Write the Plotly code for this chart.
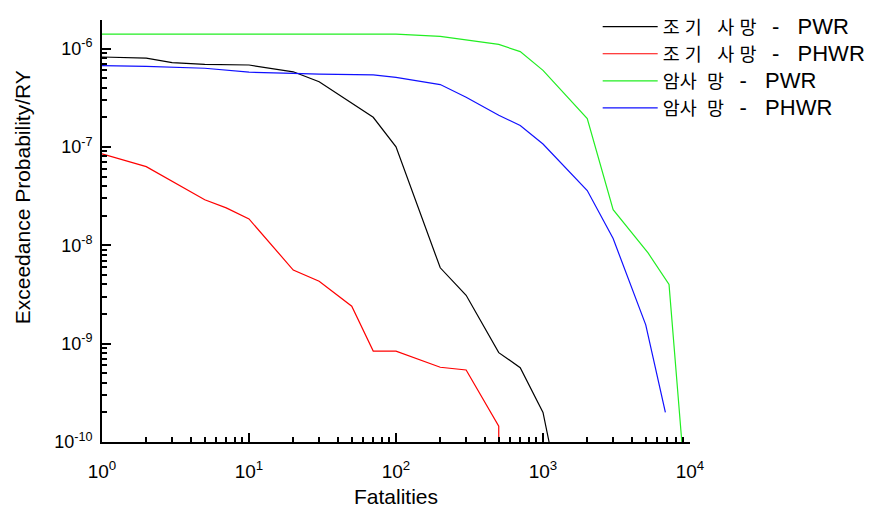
import plotly.graph_objects as go

# Early fatalities - PWR (black)
early_pwr_x = [1, 2, 3, 5, 10, 20, 30, 70, 100, 200, 300, 500, 700, 1000, 1100]
early_pwr_y = [8.2e-7, 8.0e-7, 7.2e-7, 6.9e-7, 6.8e-7, 5.8e-7, 4.6e-7, 2.0e-7, 1.0e-7,
               5.9e-9, 3.1e-9, 8.1e-10, 5.7e-10, 2.0e-10, 1.0e-10]

# Early fatalities - PHWR (red)
early_phwr_x = [1, 2, 5, 7, 10, 20, 30, 50, 70, 100, 200, 300, 500, 500]
early_phwr_y = [8.5e-8, 6.3e-8, 2.9e-8, 2.4e-8, 1.85e-8, 5.6e-9, 4.3e-9, 2.4e-9,
                8.4e-10, 8.4e-10, 5.75e-10, 5.4e-10, 1.45e-10, 1.0e-10]

# Cancer fatalities - PWR (green)
cancer_pwr_x = [1, 10, 100, 200, 500, 700, 1000, 2000, 3000, 5200, 7200, 8800]
cancer_pwr_y = [1.4e-6, 1.4e-6, 1.4e-6, 1.33e-6, 1.1e-6, 9.3e-7, 6.0e-7, 1.94e-7,
                2.3e-8, 8.3e-9, 4.0e-9, 1.0e-10]

# Cancer fatalities - PHWR (blue)
cancer_phwr_x = [1, 2, 5, 10, 20, 30, 70, 100, 200, 300, 500, 700, 1000, 2000, 3000, 5000, 6800]
cancer_phwr_y = [6.7e-7, 6.6e-7, 6.3e-7, 5.75e-7, 5.6e-7, 5.5e-7, 5.4e-7, 5.1e-7, 4.3e-7,
                 3.2e-7, 2.1e-7, 1.65e-7, 1.07e-7, 3.6e-8, 1.17e-8, 1.55e-9, 2.0e-10]

NB = "\u00a0"
BIG = "<span style='font-size:22px'>{}</span>"
series_names = [
    "조" + NB + "기" + NB * 3 + "사" + NB + "망" + NB * 3 + BIG.format("-" + NB * 3 + "PWR"),
    "조" + NB + "기" + NB * 3 + "사" + NB + "망" + NB * 3 + BIG.format("-" + NB * 3 + "PHWR"),
    "암사" + NB * 2 + "망" + NB * 3 + BIG.format("-" + NB * 3 + "PWR"),
    "암사" + NB * 2 + "망" + NB * 3 + BIG.format("-" + NB * 3 + "PHWR"),
]
series_colors = ["#000000", "#ff0000", "#22ee22", "#1010ff"]

x_tick_vals = [1, 10, 100, 1000, 10000]
x_tick_text = ["10<sup>0</sup>", "10<sup>1</sup>", "10<sup>2</sup>", "10<sup>3</sup>", "10<sup>4</sup>"]
y_tick_vals = [1e-10, 1e-9, 1e-8, 1e-7, 1e-6]
y_tick_text = ["10<sup>-10</sup>", "10<sup>-9</sup>", "10<sup>-8</sup>", "10<sup>-7</sup>", "10<sup>-6</sup>"]

x_minor = [m * 10 ** e for e in range(0, 4) for m in range(2, 10)]
y_minor = [m * 10.0 ** e for e in range(-10, -5) for m in range(2, 10)]

x_title = "Fatalities"
y_title = "Exceedance Probability/RY"

font_fam = "Liberation Sans, Arial, Noto Sans CJK KR, sans-serif"

fig = go.Figure()
data = [(early_pwr_x, early_pwr_y), (early_phwr_x, early_phwr_y),
        (cancer_pwr_x, cancer_pwr_y), (cancer_phwr_x, cancer_phwr_y)]
for (xs, ys), name, col in zip(data, series_names, series_colors):
    fig.add_trace(go.Scatter(x=xs, y=ys, mode="lines", name=name,
                             line=dict(color=col, width=1.2), cliponaxis=True))

fig.update_layout(
    width=879, height=511,
    margin=dict(l=102, r=189, t=8, b=69),
    paper_bgcolor="white", plot_bgcolor="white",
    font=dict(family=font_fam, color="black", size=17),
    legend=dict(x=0.843, y=1.028, xanchor="left", yanchor="top",
                font=dict(size=18.5, family="Liberation Sans, Noto Sans CJK KR, sans-serif"),
                bgcolor="rgba(0,0,0,0)", tracegroupgap=0, itemwidth=55),
    showlegend=True,
    annotations=[dict(text=y_title, textangle=-90, xref="paper", yref="paper",
                      x=-0.136, y=0.58, xanchor="center", yanchor="middle",
                      showarrow=False, font=dict(size=21))],
)
fig.update_xaxes(
    type="log", range=[0, 4], automargin=False,
    tickvals=x_tick_vals, ticktext=x_tick_text,
    ticks="inside", ticklen=9, tickwidth=1.5, tickcolor="black",
    showline=True, linecolor="black", linewidth=2, mirror=False,
    showgrid=False, zeroline=False,
    minor=dict(tickvals=x_minor, ticks="inside", ticklen=5, tickwidth=1.5, tickcolor="black", showgrid=False),
    title=dict(text=x_title, font=dict(size=21), standoff=9),
    tickfont=dict(size=19), ticklabelstandoff=11,
)
fig.update_yaxes(
    type="log", range=[-10, -5.71], automargin=False,
    tickvals=y_tick_vals, ticktext=y_tick_text,
    ticks="inside", ticklen=9, tickwidth=1.5, tickcolor="black",
    showline=True, linecolor="black", linewidth=2, mirror=False,
    showgrid=False, zeroline=False,
    minor=dict(tickvals=y_minor, ticks="inside", ticklen=5, tickwidth=1.5, tickcolor="black", showgrid=False),
    tickfont=dict(size=18), ticklabelstandoff=4,
)

fig.write_html("out.html")
